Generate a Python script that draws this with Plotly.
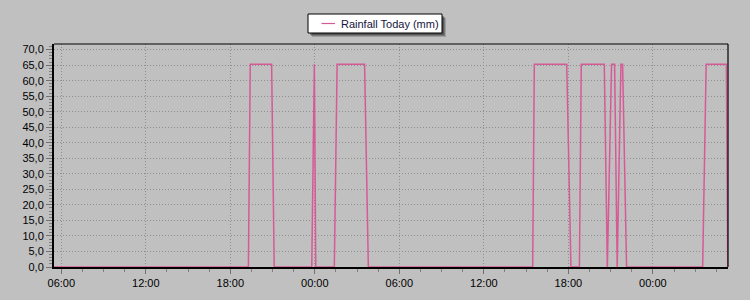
import plotly.graph_objects as go

# ---- data ----
series_name = "Rainfall Today (mm)"
times = [
    "2023-05-10 05:29", "2023-05-10 19:17", "2023-05-10 19:25", "2023-05-10 20:56",
    "2023-05-10 21:07", "2023-05-10 23:47", "2023-05-10 23:58", "2023-05-11 00:04",
    "2023-05-11 01:23", "2023-05-11 01:35", "2023-05-11 03:32", "2023-05-11 03:48",
    "2023-05-11 15:28", "2023-05-11 15:35", "2023-05-11 17:53", "2023-05-11 18:11",
    "2023-05-11 18:47", "2023-05-11 18:55", "2023-05-11 20:33", "2023-05-11 20:46",
    "2023-05-11 21:04", "2023-05-11 21:17", "2023-05-11 21:28", "2023-05-11 21:44",
    "2023-05-11 21:51", "2023-05-11 22:08", "2023-05-12 03:32", "2023-05-12 03:47",
    "2023-05-12 05:13", "2023-05-12 05:19",
]
rain = [
    0, 0, 65.3, 65.3,
    0, 0, 65.3, 0,
    0, 65.3, 65.3, 0,
    0, 65.3, 65.3, 0,
    0, 65.3, 65.3, 0,
    65.3, 65.3, 0, 65.3,
    65.3, 0, 0, 65.3,
    65.3, 0,
]
x_range = ["2023-05-10 05:29", "2023-05-12 05:20"]
y_range = [0, 71.8]

BG = "#c0c0c0"
PINK = "#d65a96"
GRID = "#8e8e8e"
FONT = "Liberation Sans, Arial, sans-serif"

fig = go.Figure()
fig.add_trace(go.Scatter(
    x=times, y=rain, mode="lines", name=series_name,
    line=dict(color=PINK, width=1.5), cliponaxis=False, showlegend=False,
))

# plot-area geometry (pixels) for decoration placement
L, R, T, B = 54, 728, 44, 267
W, H = R - L, B - T
def px(xp):
    return (xp - L) / W
def py(yp):
    return (B - yp) / H

shapes = []
# frame top and right (thin)
shapes.append(dict(type="line", xref="paper", yref="paper", x0=0, x1=1, y0=1, y1=1,
                   line=dict(color="black", width=1.2)))
shapes.append(dict(type="line", xref="paper", yref="paper", x0=1, x1=1, y0=0, y1=1,
                   line=dict(color="black", width=1.2)))
# legend shadow + box
bx0, bx1, by0, by1 = 308, 442, 14, 33
for off, a in [(4, 0.18), (3, 0.22), (2, 0.3)]:
    shapes.append(dict(type="rect", xref="paper", yref="paper",
                       x0=px(bx0 + off), x1=px(bx1 + off), y0=py(by1 + off), y1=py(by0 + off),
                       line=dict(width=0), fillcolor=f"rgba(0,0,0,{a})", layer="above"))
shapes.append(dict(type="rect", xref="paper", yref="paper",
                   x0=px(bx0), x1=px(bx1), y0=py(by1), y1=py(by0),
                   line=dict(color="black", width=1), fillcolor="white", layer="above"))
ly = (by0 + by1) / 2
shapes.append(dict(type="line", xref="paper", yref="paper",
                   x0=px(321.5), x1=px(335), y0=py(ly), y1=py(ly),
                   line=dict(color=PINK, width=1.2), layer="above"))

fig.update_layout(
    width=750, height=300,
    margin=dict(l=L, r=750 - R, t=T, b=300 - B),
    paper_bgcolor=BG, plot_bgcolor=BG,
    separators=",.",
    font=dict(family=FONT, size=11, color="black"),
    shapes=shapes,
    annotations=[dict(xref="paper", yref="paper", x=px(339), y=py(ly), xanchor="left",
                      yanchor="middle", text=series_name, showarrow=False,
                      font=dict(family=FONT, size=11, color="#141440"))],
)
fig.update_xaxes(
    type="date", range=x_range, tick0="2023-05-10 06:00", dtick=6 * 3600 * 1000,
    tickformat="%H:%M", ticks="outside", ticklen=5, tickcolor="#707070",
    showline=True, linecolor="black", linewidth=2, mirror=False,
    showgrid=True, gridcolor=GRID, griddash="1px,2px", gridwidth=1, zeroline=False,
    minor=dict(dtick=1.5 * 3600 * 1000, ticks="outside", ticklen=3, tickcolor="#808080", showgrid=False),
)
fig.update_yaxes(
    range=y_range, dtick=5, tick0=0, tickformat=".1f", ticks="outside", ticklen=6,
    tickcolor="#707070", showline=True, linecolor="black", linewidth=2, mirror=False,
    showgrid=True, gridcolor=GRID, griddash="1px,2px", gridwidth=1, zeroline=False,
    minor=dict(dtick=1, ticks="outside", ticklen=3, tickcolor="#808080", showgrid=False),
)

fig.write_html("out.html")
